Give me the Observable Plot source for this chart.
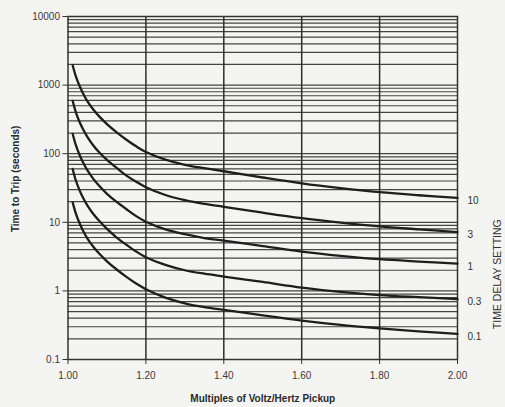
<!DOCTYPE html>
<html><head><meta charset="utf-8">
<script src="https://cdn.jsdelivr.net/npm/d3@7"></script>
<script src="https://cdn.jsdelivr.net/npm/@observablehq/plot@0.6"></script>
<style>
html,body{margin:0;padding:0;background:#f4f4f2;}
#chart svg{display:block;background:#f4f4f2;}
</style></head><body><div id="chart"></div>
<script>
// Multiples of V/Hz pickup (x positions where curves were read)
const multiples = [1.012, 1.02, 1.03, 1.04, 1.05, 1.065, 1.08, 1.1, 1.125, 1.15, 1.175, 1.2, 1.25, 1.3, 1.35, 1.4, 1.5, 1.6, 1.7, 1.8, 1.9, 2.0];
// Time to trip (seconds) for each time delay setting
const td10 = [1950, 1350, 960, 730, 580, 440, 350, 270, 205, 160, 128, 106, 82, 69, 61.5, 55.5, 45, 37, 31.5, 27.5, 24.8, 22.7];
const td3  = [590, 405, 288, 220, 175, 132, 105, 81, 62, 48, 39, 32.5, 25, 21, 18.5, 16.8, 13.8, 11.5, 9.9, 8.7, 7.9, 7.2];
const td1  = [195, 134, 95, 72, 57, 43, 34, 26, 19.8, 15.5, 12.3, 10.2, 7.9, 6.7, 5.9, 5.4, 4.5, 3.75, 3.25, 2.9, 2.68, 2.5];
const td03 = [60, 41, 29, 22, 17.5, 13.2, 10.5, 8.0, 6.0, 4.7, 3.75, 3.1, 2.4, 2.0, 1.78, 1.62, 1.35, 1.12, 0.97, 0.87, 0.81, 0.76];
const td01 = [19.5, 13.5, 9.6, 7.3, 5.8, 4.4, 3.5, 2.7, 2.05, 1.6, 1.28, 1.06, 0.8, 0.66, 0.58, 0.53, 0.44, 0.37, 0.32, 0.285, 0.257, 0.236];
const settings = ["10", "3", "1", "0.3", "0.1"];
const series = [td10, td3, td1, td03, td01];

const xTicks = [1.0, 1.2, 1.4, 1.6, 1.8, 2.0];
const xTickLabels = ["1.00", "1.20", "1.40", "1.60", "1.80", "2.00"];
const xGrid = [1.2, 1.4, 1.6, 1.8];
const yTicks = [0.1, 1, 10, 100, 1000, 10000];
const yTickLabels = ["0.1", "1", "10", "100", "1000", "10000"];
const gridDecades = [0.1, 1, 10, 100, 1000];
const gridSteps = [1, 2, 3, 4, 5, 6, 7, 8, 9];

const xTitle = "Multiples of Voltz/Hertz Pickup";
const yTitle = "Time to Trip (seconds)";
const legendTitle = "TIME DELAY SETTING";

const rows = series.flatMap((vals, i) => multiples.map((m, j) => ({m, t: vals[j], s: settings[i]})));
const ends = series.map((vals, i) => ({s: settings[i], m: multiples[multiples.length - 1], t: vals[vals.length - 1]}));
const minorGrid = gridDecades.flatMap(d => gridSteps.map(k => +(d * k).toPrecision(3))).concat([10000]);

const chart = Plot.plot({
  width: 505,
  height: 407,
  marginLeft: 67.5,
  marginRight: 48,
  marginTop: 16,
  marginBottom: 48,
  style: {background: "#f4f4f2", color: "#3a3a3a", fontFamily: "Liberation Sans, Arial, sans-serif"},
  x: {domain: [1, 2]},
  y: {type: "log", domain: [0.1, 10000]},
  marks: [
    Plot.gridY(minorGrid, {stroke: "#444", strokeOpacity: 1, strokeWidth: 1.2}),
    Plot.gridX(xGrid, {stroke: "#2e2e2e", strokeOpacity: 1, strokeWidth: 1.5}),
    Plot.frame({stroke: "#333", strokeWidth: 1.5}),
    Plot.line(rows, {x: "m", y: "t", z: "s", stroke: "#1e1e1e", strokeWidth: 2.3, curve: "catmull-rom"}),
    Plot.axisY(yTicks, {tickFormat: d => yTickLabels[yTicks.indexOf(d)], tickSize: 5, tickPadding: 3, fontSize: 10, label: null, stroke: "#333"}),
    Plot.axisX(xTicks, {tickFormat: d => xTickLabels[xTicks.indexOf(d)], tickSize: 5, tickPadding: 7, fontSize: 10, label: null, stroke: "#333"}),
    Plot.text(ends, {x: "m", y: "t", text: "s", dx: 10, dy: 3, textAnchor: "start", fontSize: 10, fill: "#333"}),
    Plot.text([legendTitle], {x: 2, y: 1.75, dx: 40, rotate: -90, fontSize: 10.5, fill: "#333"}),
    Plot.text([yTitle], {x: 1, y: 43, dx: -52, rotate: -90, fontSize: 10, fontWeight: "bold", fill: "#2a2a2a"}),
    Plot.text([xTitle], {x: 1.5, y: 0.1, dy: 39, fontSize: 10, fontWeight: "bold", fill: "#2a2a2a"})
  ]
});
document.getElementById("chart").appendChild(chart);
</script>
</body></html>
